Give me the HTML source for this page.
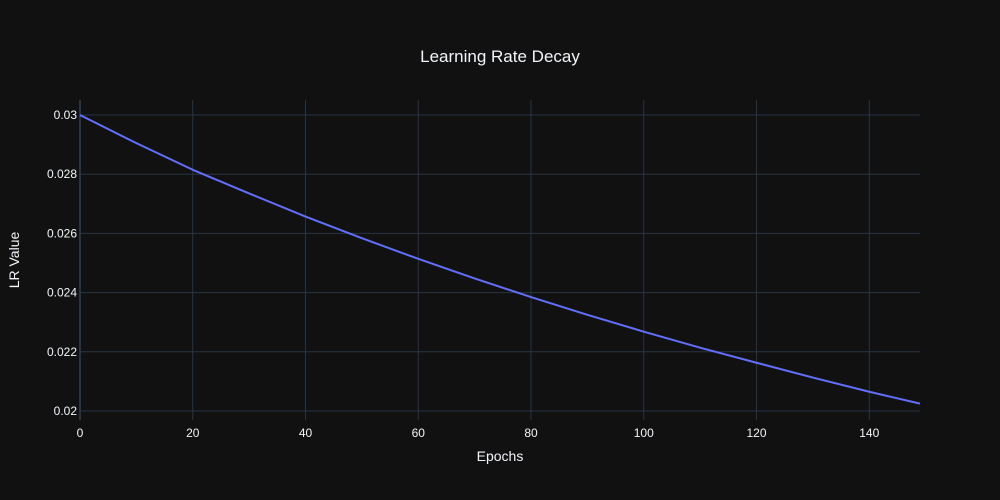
<!DOCTYPE html>
<html><head><meta charset="utf-8"><style>
html,body{margin:0;padding:0;background:#111111;}
svg{display:block;font-family:"Liberation Sans",sans-serif;}
</style></head><body>
<svg id="chart" width="1000" height="500" xmlns="http://www.w3.org/2000/svg">
<rect width="1000" height="500" fill="#111111"/>
<text x="500" y="62" text-anchor="middle" fill="#f2f5fa" font-size="17">Learning Rate Decay</text>
<g id="grid"></g><g id="axes"></g><g id="series"></g>
<text x="500" y="461" text-anchor="middle" fill="#f2f5fa" font-size="14">Epochs</text>
<text transform="translate(19,260) rotate(-90)" text-anchor="middle" fill="#f2f5fa" font-size="14">LR Value</text>
</svg>
<script>
const epochs = [0,10,20,30,40,50,60,70,80,90,100,110,120,130,140,149];
const lrValues = [0.03,0.02905,0.02815,0.02735,0.02657,0.02584,0.02514,0.02448,0.02385,0.02325,0.02268,0.02214,0.02163,0.02113,0.02065,0.02025];
const xTicks = [0,20,40,60,80,100,120,140];
const yTicks = [0.02,0.022,0.024,0.026,0.028,0.03];
const yTickLabels = ["0.02","0.022","0.024","0.026","0.028","0.03"];

const L=80,R=920,T=100,B=420;
const xMin=0,xMax=149,yMin=0.019696,yMax=0.030507;
const xs=v=>L+(v-xMin)/(xMax-xMin)*(R-L);
const ys=v=>B-(v-yMin)/(yMax-yMin)*(B-T);
const NS="http://www.w3.org/2000/svg";
const grid=document.getElementById('grid'),axes=document.getElementById('axes'),series=document.getElementById('series');
function mk(tag,attrs,parent){const e=document.createElementNS(NS,tag);for(const k in attrs)e.setAttribute(k,attrs[k]);parent.appendChild(e);return e;}
xTicks.forEach(t=>{
  const x=xs(t);
  const g=mk('line',{x1:x,x2:x,y1:T,y2:B,stroke:'#283442','stroke-width':t===0?2:1},grid);
  
  
  const lb=mk('text',{x:x,y:B+17,'text-anchor':'middle',fill:'#f2f5fa','font-size':12},axes);
  lb.textContent=t;
  
  
});
yTicks.forEach((t,i)=>{
  const y=ys(t);
  const g=mk('line',{x1:L,x2:R,y1:y,y2:y,stroke:'#283442','stroke-width':1},grid);
  
  
  const lb=mk('text',{x:L-3,y:y+4,'text-anchor':'end',fill:'#f2f5fa','font-size':12},axes);
  lb.textContent=yTickLabels[i];
  
  
});
const pts=epochs.map((e,i)=>xs(e)+','+ys(lrValues[i])).join(' ');
const line=mk('polyline',{points:pts,fill:'none',stroke:'#636efa','stroke-width':2,'stroke-linejoin':'round'},series);


</script>
</body></html>
